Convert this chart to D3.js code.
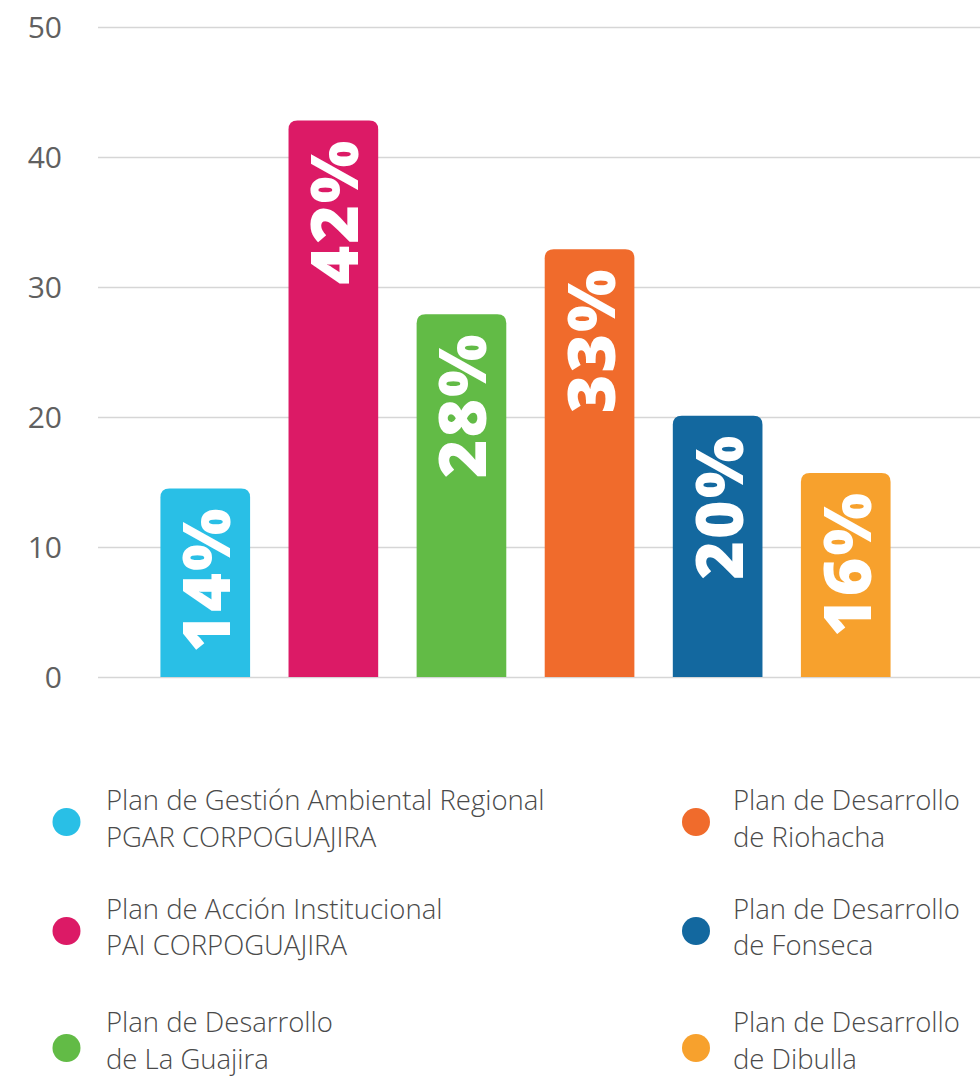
<!DOCTYPE html>
<html>
<head>
<meta charset="utf-8">
<script src="https://cdn.jsdelivr.net/npm/d3@7/dist/d3.min.js"></script>
<style>
  html, body { margin: 0; padding: 0; background: #ffffff; }
  svg { display: block; }
</style>
</head>
<body>
<svg id="chart" width="980" height="1079"></svg>
<script>
// ---- data ----
const categories = [
  "Plan de Gestión Ambiental Regional PGAR CORPOGUAJIRA",
  "Plan de Acción Institucional PAI CORPOGUAJIRA",
  "Plan de Desarrollo de La Guajira",
  "Plan de Desarrollo de Riohacha",
  "Plan de Desarrollo de Fonseca",
  "Plan de Desarrollo de Dibulla"
];
const legendLine1 = [
  "Plan de Gestión Ambiental Regional",
  "Plan de Acción Institucional",
  "Plan de Desarrollo",
  "Plan de Desarrollo",
  "Plan de Desarrollo",
  "Plan de Desarrollo"
];
const legendLine2 = [
  "PGAR CORPOGUAJIRA",
  "PAI CORPOGUAJIRA",
  "de La Guajira",
  "de Riohacha",
  "de Fonseca",
  "de Dibulla"
];
const values = [14.5, 42.8, 27.9, 32.9, 20.1, 15.7];
const valueLabels = ["14%", "42%", "28%", "33%", "20%", "16%"];
const colors = ["#29bfe6", "#dc1a66", "#62bb46", "#f06b2c", "#13689f", "#f7a12d"];
const yTicks = [0, 10, 20, 30, 40, 50];

// ---- layout ----
const svg = d3.select("#chart");
const y = d3.scaleLinear().domain([0, 50]).range([677, 27]);
const x = d3.scaleBand().domain(d3.range(categories.length)).range([122, 929]).paddingInner(0.3).paddingOuter(0.3);

// grid lines
const yAxis = d3.axisLeft(y).tickValues(yTicks).tickSize(-(980 - 98)).tickPadding(36).tickFormat(d3.format("d"));
const gAxis = svg.append("g").attr("transform", "translate(98,0)").call(yAxis);
gAxis.select(".domain").remove();
gAxis.selectAll(".tick line").attr("stroke", "#d6d6d6").attr("stroke-width", 1.6);
gAxis.selectAll(".tick text")
  .attr("fill", "#606060")
  .attr("font-family", "'Open Sans', sans-serif")
  .attr("font-size", 30)
  .attr("font-weight", 400)
  .attr("dy", "0.36em");

// bars with rounded top corners
function topRounded(x0, y0, w, h, r) {
  r = Math.min(r, w / 2, h);
  return `M${x0},${y0 + h}V${y0 + r}Q${x0},${y0} ${x0 + r},${y0}H${x0 + w - r}Q${x0 + w},${y0} ${x0 + w},${y0 + r}V${y0 + h}Z`;
}
const bars = svg.append("g");
bars.selectAll("path").data(values).join("path")
  .attr("d", (d, i) => topRounded(x(i), y(d), x.bandwidth(), y(0) - y(d), 9))
  .attr("fill", (d, i) => colors[i]);

// value labels, rotated
bars.selectAll("text").data(values).join("text")
  .attr("transform", (d, i) => `translate(${x(i) + x.bandwidth() / 2 + 25},${y(d) + 18}) rotate(-90)`)
  .attr("text-anchor", "end")
  .attr("fill", "#ffffff")
  .attr("font-family", "'Open Sans', sans-serif")
  .attr("font-weight", 800)
  .attr("font-size", 66)
  .attr("letter-spacing", 2)
  .text((d, i) => valueLabels[i]);

// legend
const legendColX = [66.5, 696];
const legendTextX = [106, 733];
const legendRowY = [822, 931, 1048];
const legendLine1Dy = [-12, -12, -16];
const legendLine2Dy = [25, 24, 21];
const legend = svg.append("g");
const items = legend.selectAll("g").data(categories).join("g")
  .attr("transform", (d, i) => {
    const col = Math.floor(i / 3), row = i % 3;
    return `translate(${legendColX[col]},${legendRowY[row]})`;
  });
items.append("circle").attr("r", 14).attr("fill", (d, i) => colors[i]);
const tx = (d, i) => legendTextX[Math.floor(i / 3)] - legendColX[Math.floor(i / 3)];
const txt = items.append("text")
  .attr("fill", "#4a4a4a")
  .attr("font-family", "'Open Sans', sans-serif")
  .attr("font-weight", 300)
  .attr("font-size", 27.5);
txt.append("tspan").attr("x", tx).attr("y", (d, i) => legendLine1Dy[i % 3]).text((d, i) => legendLine1[i]);
txt.append("tspan").attr("x", tx).attr("y", (d, i) => legendLine2Dy[i % 3]).text((d, i) => legendLine2[i]);
</script>
</body>
</html>
